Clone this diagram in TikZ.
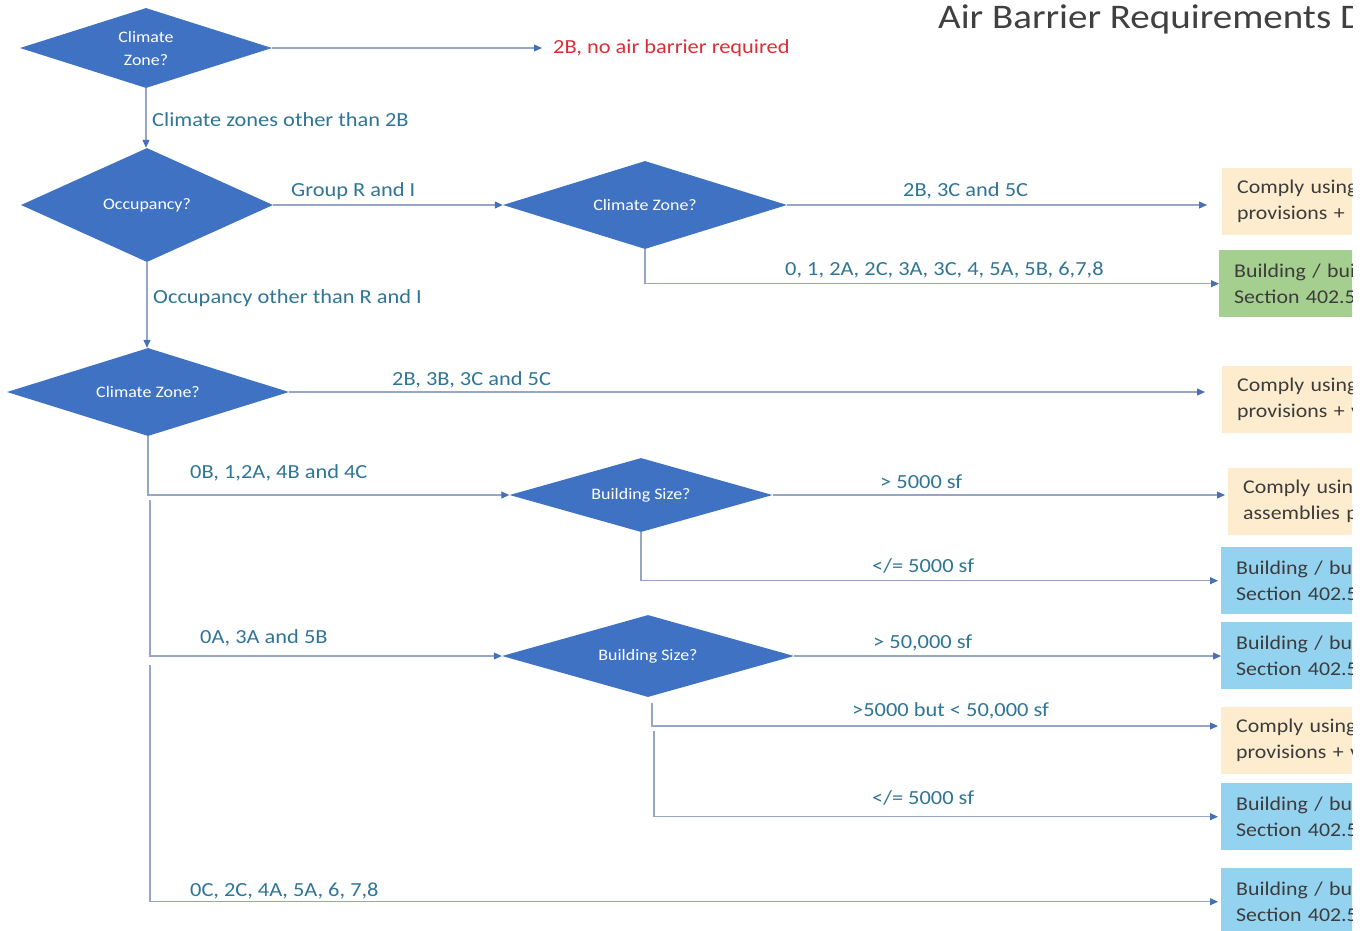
\documentclass[tikz,border=0pt]{standalone}
\usepackage{fontspec}
\setmainfont{Carlito}
\newfontfamily\wfont[FakeStretch=1.12]{Carlito}
\newfontfamily\tfont[FakeStretch=1.13]{Carlito}
\usetikzlibrary{shapes.geometric,arrows.meta}
\definecolor{dblue}{RGB}{64,114,196}
\definecolor{lnc}{RGB}{150,166,200}
\definecolor{tipc}{RGB}{72,112,182}
\definecolor{lbl}{RGB}{47,117,150}
\definecolor{redt}{RGB}{222,45,55}
\definecolor{yel}{RGB}{253,237,206}
\definecolor{grn}{RGB}{165,207,143}
\definecolor{cyanb}{RGB}{148,211,240}
\definecolor{boxt}{RGB}{60,60,60}
\definecolor{titlec}{RGB}{64,64,64}
\begin{document}
\begin{tikzpicture}[x=1pt,y=-1pt,
  dia/.style={diamond, fill=dblue, draw=none, inner sep=0pt, text=white,
    font=\wfont\fontsize{16}{23}\selectfont, align=center},
  conn/.style={draw=lnc, line width=1.1pt, -{Triangle[length=8pt,width=7pt,fill=tipc,color=tipc]}},
  lab/.style={anchor=base west, inner sep=0pt, text=lbl, font=\wfont\fontsize{20}{22}\selectfont},
  outbox/.style={anchor=north west, minimum height=67pt, text width=240pt, align=left,
    inner xsep=15pt, text=boxt, font=\wfont\fontsize{19.5}{26}\selectfont},
]
\useasboundingbox[fill=white] (0,0) rectangle (1367,930);
\begin{scope}
\clip (0,0) rectangle (1352,930);
% title
\node[anchor=base west, inner sep=0pt, font=\tfont\fontsize{34.5}{40}\selectfont, text=titlec] (title) at (938,28) {Air Barrier Requirements D};
% diamonds
\node[dia, aspect=3.15, minimum width=252pt, minimum height=80pt] (d1) at (146,48) {Climate\\Zone?};
\node[dia, aspect=2.2, minimum width=252pt, minimum height=114pt] (d2) at (147,205) {Occupancy?};
\node[dia, aspect=3.2, minimum width=284pt, minimum height=88pt] (d3) at (645,205) {Climate Zone?};
\node[dia, aspect=3.2, minimum width=282pt, minimum height=88pt] (d4) at (148,392) {Climate Zone?};
\node[dia, aspect=3.5, minimum width=263pt, minimum height=74pt] (d5) at (641,495) {Building Size?};
\node[dia, aspect=3.5, minimum width=292pt, minimum height=82pt] (d6) at (648,656) {Building Size?};
% red outcome
\node[anchor=west, inner xsep=11pt, text=redt, font=\wfont\fontsize{20}{22}\selectfont] (r0) at (542,48) {2B, no air barrier required};
% result boxes
\node[outbox, fill=yel] (b1) at (1222,168) {Comply using\\provisions +};
\node[outbox, fill=grn] (b2) at (1219,250) {Building / bui\\Section 402.5};
\node[outbox, fill=yel] (b3) at (1222,366) {Comply using\\provisions + v};
\node[outbox, fill=yel] (b4) at (1228,468) {Comply using\\assemblies p};
\node[outbox, fill=cyanb] (b5) at (1221,547) {Building / bui\\Section 402.5};
\node[outbox, fill=cyanb] (b6) at (1221,622) {Building / bu\\Section 402.5};
\node[outbox, fill=yel] (b7) at (1221,707) {Comply using\\provisions + v};
\node[outbox, fill=cyanb] (b8) at (1221,783) {Building / bu\\Section 402.5};
\node[outbox, fill=cyanb] (b9) at (1221,868) {Building / bu\\Section 402.5};
% junction coordinates
\coordinate (j1) at (150,500);
\coordinate (j2) at (150,665);
\coordinate (j3) at (652,703);
\coordinate (j4) at (654,731);
\coordinate (e7) at (1218,726);
% connectors
\draw[conn] (d1.east) -- (r0.west);
\draw[conn] (d1.south) -- (d1.south |- d2.north);
\draw[conn] (d2.east) -- (d3.west);
\draw[conn, shorten >=15pt] (d3.east) -- (d3.east -| b1.west);
\draw[conn] (d3.south) |- (b2.west);
\draw[conn] (d2.south) -- (d2.south |- d4.north);
\draw[conn, shorten >=17pt] (d4.east) -- (d4.east -| b3.west);
\draw[conn] (d4.south) |- (d5.west);
\draw[conn] (j1) |- (d6.west);
\draw[conn, shorten >=3pt] (j2) |- (b9.west);
\draw[conn, shorten >=3pt] (d5.east) -- (d5.east -| b4.west);
\draw[conn, shorten >=3pt] (d5.south) |- (b5.west);
\draw[conn] (d6.east) -- (d6.east -| b6.west);
\draw[conn] (j3) |- (e7);
\draw[conn, shorten >=3pt] (j4) |- (b8.west);
% labels
\node[lab] (l1) at (152,126) {Climate zones other than 2B};
\node[lab] (l2) at (291,196) {Group R and I};
\node[lab] (l3) at (903,196) {2B, 3C and 5C};
\node[lab] (l4) at (785,275) {0, 1, 2A, 2C, 3A, 3C, 4, 5A, 5B, 6,7,8};
\node[lab] (l5) at (153,303) {Occupancy other than R and I};
\node[lab] (l6) at (392,385) {2B, 3B, 3C and 5C};
\node[lab] (l7) at (190,478) {0B, 1,2A, 4B and 4C};
\node[lab] (l8) at (200,643) {0A, 3A and 5B};
\node[lab] (l9) at (190,896) {0C, 2C, 4A, 5A, 6, 7,8};
\node[lab] (l10) at (880,488) {> 5000 sf};
\node[lab] (l11) at (872,572) {</= 5000 sf};
\node[lab] (l12) at (873,648) {> 50,000 sf};
\node[lab] (l13) at (852,716) {>5000 but < 50,000 sf};
\node[lab] (l14) at (872,804) {</= 5000 sf};
\end{scope}
\end{tikzpicture}
\end{document}
